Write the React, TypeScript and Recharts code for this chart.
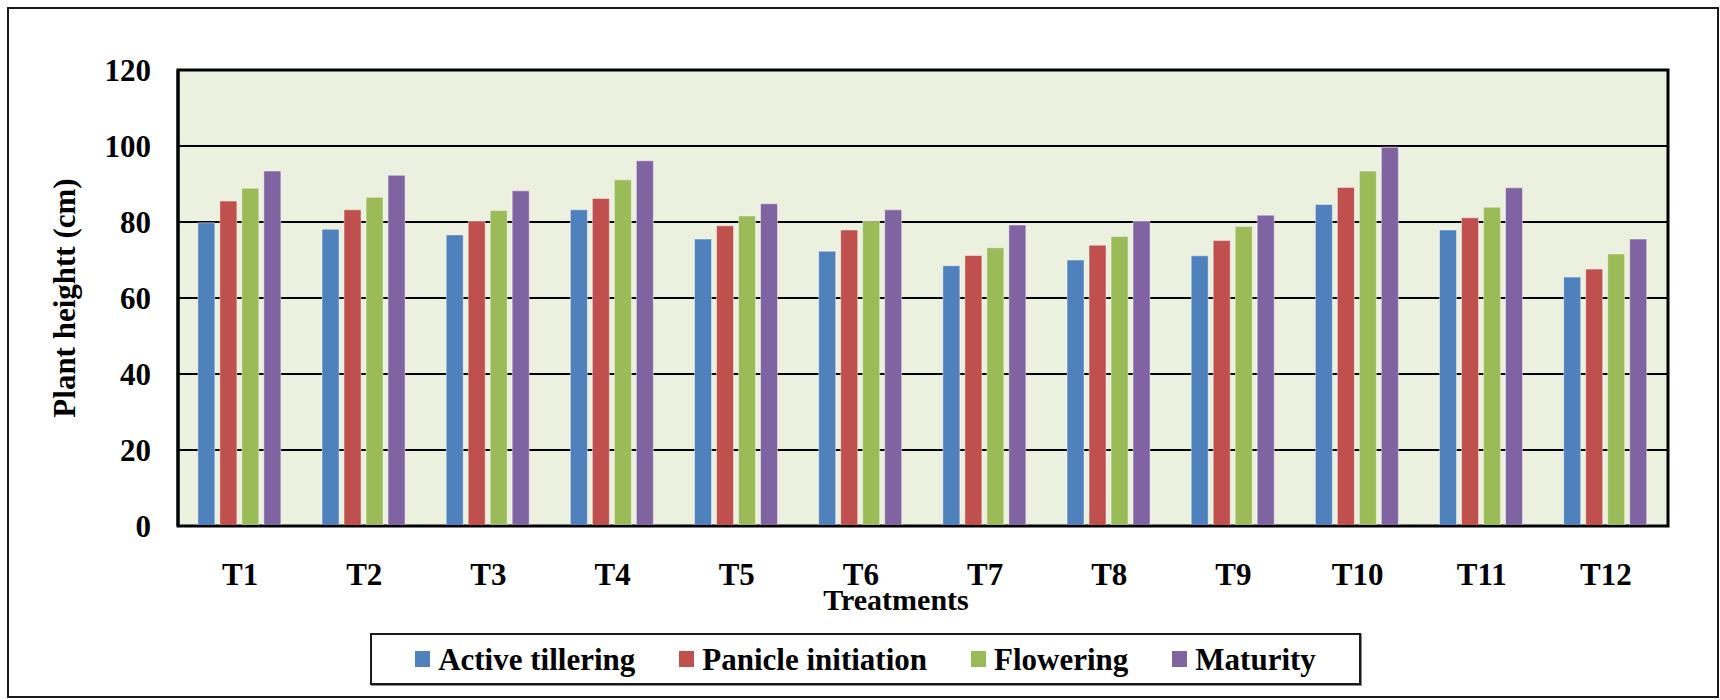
// @ts-nocheck
import { BarChart, Bar, XAxis, YAxis, CartesianGrid, Legend, ReferenceArea } from 'recharts'

const treatments = ['T1', 'T2', 'T3', 'T4', 'T5', 'T6', 'T7', 'T8', 'T9', 'T10', 'T11', 'T12']
const activeTillering = [79.8, 78.1, 76.6, 83.2, 75.5, 72.3, 68.5, 70.0, 71.1, 84.6, 77.9, 65.5]
const panicleInitiation = [85.5, 83.2, 80.2, 86.2, 79.0, 77.9, 71.2, 73.9, 75.1, 89.1, 81.1, 67.6]
const flowering = [88.9, 86.5, 83.0, 91.1, 81.6, 80.2, 73.2, 76.2, 78.8, 93.4, 83.9, 71.6]
const maturity = [93.4, 92.3, 88.2, 96.1, 84.8, 83.2, 79.2, 80.2, 81.8, 99.7, 89.0, 75.5]
const yTicks = [0, 20, 40, 60, 80, 100, 120]
const seriesNames = ['Active tillering', 'Panicle initiation', 'Flowering', 'Maturity']

const data = treatments.map((t, i) => ({
  name: t,
  active: activeTillering[i],
  panicle: panicleInitiation[i],
  flowering: flowering[i],
  maturity: maturity[i],
}))

const FONT = "'Times New Roman', 'Liberation Serif', serif"

function LegendBox({ payload }) {
  const items = [...(payload || [])].sort(
    (a, b) => seriesNames.indexOf(a.value) - seriesNames.indexOf(b.value)
  )
  return (
    <div
      style={{
        boxSizing: 'border-box',
        height: 52,
        border: '2px solid #1a1a1a',
        boxShadow: '1px 1px 0 #888',
        background: '#fff',
        display: 'flex',
        alignItems: 'center',
        justifyContent: 'center',
        gap: 44,
        fontFamily: FONT,
        fontWeight: 'bold',
        fontSize: 31,
        color: '#000',
      }}
    >
      {items.map((p) => (
        <div key={p.value} style={{ display: 'flex', alignItems: 'center', gap: 8 }}>
          <span style={{ display: 'inline-block', width: 15, height: 16, background: p.color }} />
          <span style={{ lineHeight: '31px' }}>{p.value}</span>
        </div>
      ))}
    </div>
  )
}

export default function App() {
  const tickStyle = { fontFamily: FONT, fontWeight: 'bold', fontSize: 31, fill: '#000' }
  return (
    <div>
      <div
        style={{
          position: 'absolute',
          left: 7,
          top: 7,
          width: 1712,
          height: 691,
          boxSizing: 'border-box',
          border: '2px solid #1a1a1a',
          background: '#fff',
        }}
      />
      <div style={{ position: 'absolute', left: 0, top: 0 }}>
        <BarChart
          width={1720}
          height={700}
          data={data}
          margin={{ top: 70, right: 52, left: 118, bottom: 114 }}
          barCategoryGap="16%"
          barGap={5}
        >
          <CartesianGrid vertical={false} fill="#EBF1DE" stroke="#000" strokeWidth={2} />
          <XAxis
            dataKey="name"
            height={60}
            tickLine={false}
            tickSize={0}
            tickMargin={37}
            axisLine={{ stroke: '#000', strokeWidth: 2 }}
            tick={tickStyle}
            interval={0}
            label={{
              content: () => (
                <text x={896} y={610} textAnchor="middle" fill="#000" fontFamily={FONT} fontWeight="bold" fontSize={30}>
                  Treatments
                </text>
              ),
            }}
          />
          <YAxis
            width={60}
            domain={[0, 120]}
            ticks={yTicks}
            interval={0}
            tickLine={false}
            tickSize={0}
            tickMargin={27}
            axisLine={{ stroke: '#000', strokeWidth: 3 }}
            tick={tickStyle}
            label={{
              content: () => (
                <text
                  x={75}
                  y={298}
                  textAnchor="middle"
                  transform="rotate(-90, 75, 298)"
                  fontFamily={FONT}
                  fontWeight="bold"
                  fontSize={31}
                  fill="#000"
                >
                  Plant heightt (cm)
                </text>
              ),
            }}
          />
          <ReferenceArea y1={0} y2={120} fill="none" stroke="#000" strokeWidth={3} ifOverflow="visible" />
          <Legend
            layout="horizontal"
            align="center"
            verticalAlign="middle"
            wrapperStyle={{ left: 370, top: 633, width: 991, height: 52 }}
            content={LegendBox}
          />
          <Bar dataKey="active" name="Active tillering" fill="#4F81BD" stroke="#ffffff" strokeOpacity={0.45} strokeWidth={1} isAnimationActive={false} />
          <Bar dataKey="panicle" name="Panicle initiation" fill="#C0504D" stroke="#ffffff" strokeOpacity={0.45} strokeWidth={1} isAnimationActive={false} />
          <Bar dataKey="flowering" name="Flowering" fill="#9BBB59" stroke="#ffffff" strokeOpacity={0.45} strokeWidth={1} isAnimationActive={false} />
          <Bar dataKey="maturity" name="Maturity" fill="#8064A2" stroke="#ffffff" strokeOpacity={0.45} strokeWidth={1} isAnimationActive={false} />
        </BarChart>
      </div>
    </div>
  )
}
